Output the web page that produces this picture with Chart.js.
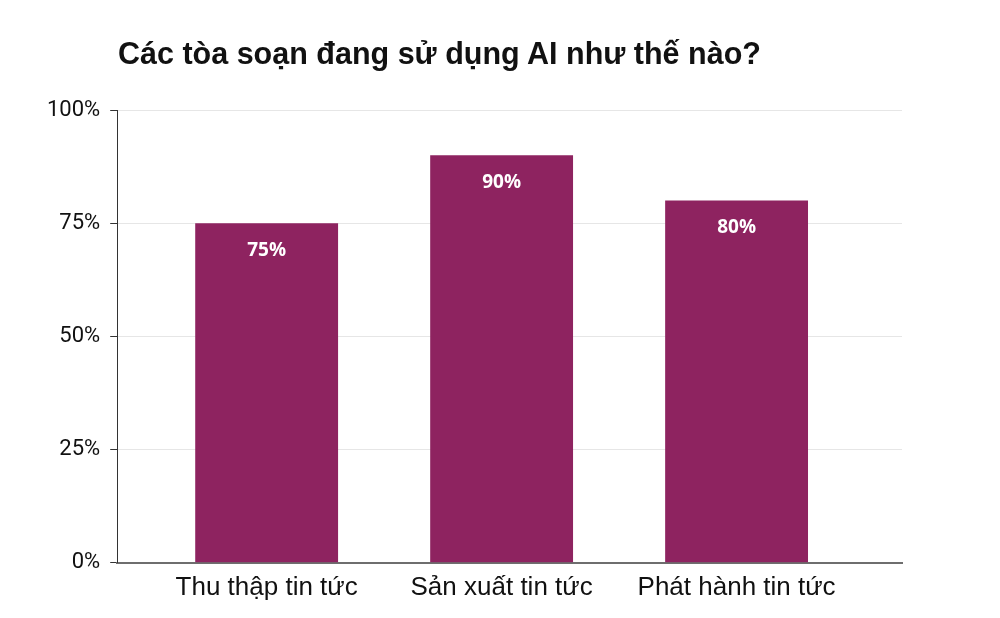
<!DOCTYPE html>
<html>
<head>
<meta charset="utf-8">
<script src="https://cdn.jsdelivr.net/npm/chart.js@4.4.1/dist/chart.umd.min.js"></script>
<style>
  html, body { margin: 0; padding: 0; background: #fff; }
  #wrap { position: relative; width: 1000px; height: 618px; }
  #title {
    position: absolute; left: 118px; top: 36px; margin: 0;
    font: bold 30.5px "Liberation Sans", Arial, sans-serif; color: #111;
  }
</style>
</head>
<body>
<div id="wrap">
  <h1 id="title">Các tòa soạn đang sử dụng AI như thế nào?</h1>
  <canvas id="chart" width="1000" height="618"></canvas>
</div>
<script>
const categories = ['Thu thập tin tức', 'Sản xuất tin tức', 'Phát hành tin tức'];
const values = [75, 90, 80];
const yTicks = [0, 25, 50, 75, 100];

const barColor = '#8e2360';

// white value labels inside the top of each bar
const valueLabels = {
  id: 'valueLabels',
  afterDatasetsDraw(chart) {
    const ctx = chart.ctx;
    const meta = chart.getDatasetMeta(0);
    ctx.save();
    ctx.fillStyle = '#fff';
    ctx.font = 'bold 19px "Open Sans", sans-serif';
    ctx.textAlign = 'center';
    ctx.textBaseline = 'middle';
    meta.data.forEach((bar, i) => {
      ctx.fillText(values[i] + '%', bar.x, bar.y + 27);
    });
    ctx.restore();
  }
};

new Chart(document.getElementById('chart'), {
  type: 'bar',
  data: {
    datasets: [{
      data: categories.map((c, i) => ({ x: i, y: values[i] })),
      backgroundColor: barColor,
      borderWidth: 0,
      barPercentage: 0.608,
      categoryPercentage: 1
    }]
  },
  options: {
    responsive: false,
    animation: false,
    devicePixelRatio: 1,
    layout: { padding: { top: 110, right: 98, left: 37, bottom: 6 } },
    plugins: {
      legend: { display: false },
      tooltip: { enabled: false },
      title: { display: false }
    },
    scales: {
      x: {
        type: 'linear',
        offset: false,
        min: -0.636,
        max: 2.704,
        afterBuildTicks(axis) {
          axis.ticks = categories.map((c, i) => ({ value: i }));
        },
        ticks: {
          callback: (v) => categories[v],
          color: '#111',
          font: { family: 'Liberation Sans', size: 26 },
          padding: 9,
          maxRotation: 0,
          autoSkip: false
        },
        grid: { display: false, drawTicks: false },
        border: { color: '#6e6e6e', width: 2 }
      },
      y: {
        min: 0,
        max: 100,
        afterBuildTicks(axis) {
          axis.ticks = yTicks.map(v => ({ value: v }));
        },
        ticks: {
          callback: (v) => v + '%',
          color: '#111',
          font: { family: 'Roboto', size: 22 },
          padding: 10
        },
        grid: {
          color: '#e6e6e6',
          tickColor: '#333',
          tickLength: 7
        },
        border: { color: '#333', width: 1 }
      }
    }
  },
  plugins: [valueLabels]
});
</script>
</body>
</html>
